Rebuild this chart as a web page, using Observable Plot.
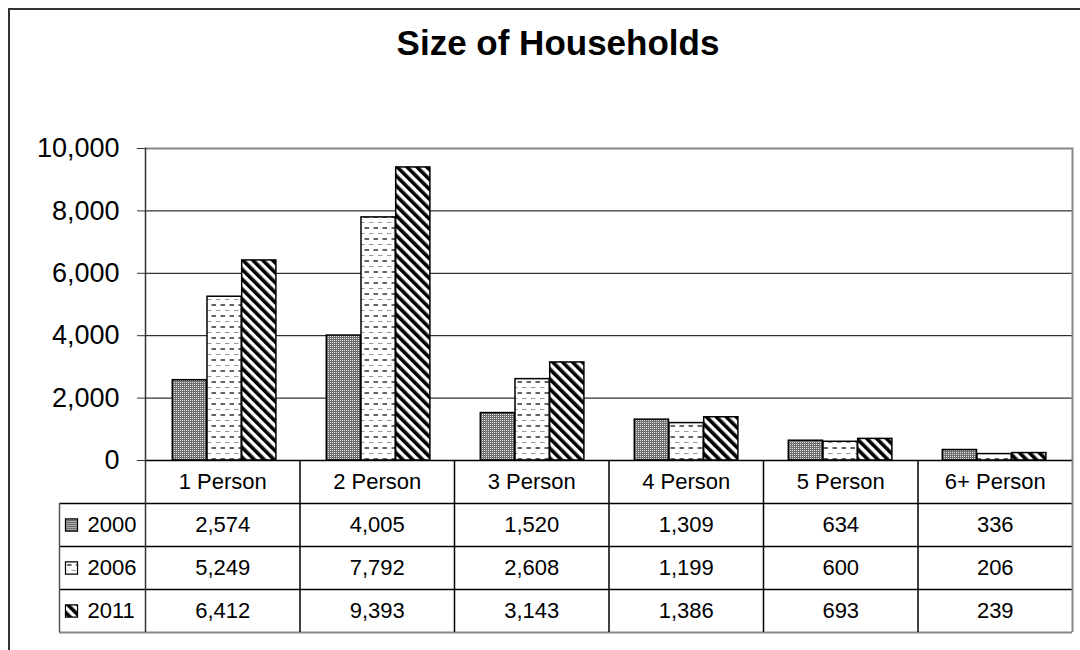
<!DOCTYPE html>
<html>
<head>
<meta charset="utf-8">
<script src="https://cdn.jsdelivr.net/npm/d3@7"></script>
<script src="https://cdn.jsdelivr.net/npm/@observablehq/plot@0.6"></script>
<style>
  body { margin: 0; background: #fff; font-family: "Liberation Sans", Arial, sans-serif; }
  #wrap { position: relative; width: 1080px; height: 650px; overflow: hidden; background: #fff; }
  #chart, #table { position: absolute; left: 0; }
  #chart { top: 0; }
  #table { top: 460px; }
  #border { position: absolute; left: 8px; top: 8px; width: 1200px; height: 800px;
            border-left: 2px solid #333; border-top: 2px solid #333; }
  #title { position: absolute; left: 18px; width: 1080px; top: 25px; text-align: center;
           font-weight: bold; font-size: 35px; line-height: 1; color: #000; }
</style>
</head>
<body>
<div id="wrap">
  <svg width="0" height="0" style="position:absolute">
    <defs>
      <!-- 2000: fine gray stipple -->
      <pattern id="fill2000" width="2" height="2" patternUnits="userSpaceOnUse">
        <rect width="2" height="2" fill="#6f6f6f"/>
        <rect width="1" height="1" fill="#e0e0e0"/>
      </pattern>
      <!-- 2006: white with staggered dashes -->
      <pattern id="fill2006" width="9" height="11" patternUnits="userSpaceOnUse">
        <rect width="9" height="11" fill="#fff"/>
        <line x1="0" x2="4.5" y1="2.5" y2="2.5" stroke="#999" stroke-width="1"/>
        <line x1="4.5" x2="9" y1="8" y2="8" stroke="#222" stroke-width="1.4"/>
      </pattern>
      <!-- 2011: wide diagonal stripes -->
      <pattern id="fill2011" width="7" height="7" patternUnits="userSpaceOnUse" patternTransform="rotate(-45)">
        <rect width="7" height="7" fill="#fff"/>
        <rect width="3.6" height="7" fill="#000"/>
      </pattern>
    </defs>
  </svg>
  <div id="chart"></div>
  <div id="table"></div>
  <div id="border"></div>
  <div id="title">Size of Households</div>
</div>
<script>
// Households by size
const categories = ["1 Person", "2 Person", "3 Person", "4 Person", "5 Person", "6+ Person"];
const years = ["2000", "2006", "2011"];
const values2000 = [2574, 4005, 1520, 1309, 634, 336];
const values2006 = [5249, 7792, 2608, 1199, 600, 206];
const values2011 = [6412, 9393, 3143, 1386, 693, 239];
const yTicks = [0, 2000, 4000, 6000, 8000, 10000];

const series = {"2000": values2000, "2006": values2006, "2011": values2011};
const rows = years.flatMap(year => categories.map((cat, i) => ({year, cat, value: series[year][i]})));

const fills = {"2000": "url(#fill2000)", "2006": "url(#fill2006)", "2011": "url(#fill2011)"};
const font = "'Liberation Sans', Arial, sans-serif";
const fmt = d3.format(",");

// Layout
const W = 1080, mL = 145, mR = 8;
const bandW = (W - mL - mR) / categories.length;
const groupLeft = 25.3, barW = 34.7;
const labelColW = 86;

const chart = Plot.plot({
  width: W, height: 480,
  marginTop: 148, marginBottom: 20, marginLeft: mL, marginRight: mR,
  style: {background: "transparent", fontFamily: font, color: "#000", overflow: "visible"},
  x: {domain: categories, padding: 0, axis: null},
  y: {domain: [0, 10000], axis: null},
  marks: [
    Plot.ruleY(yTicks.filter(t => t > 0 && t < 10000), {stroke: "#000", strokeWidth: 1}),
    Plot.ruleY([10000], {stroke: "#888", strokeWidth: 2}),
    Plot.frame({anchor: "right", stroke: "#888", strokeWidth: 2}),
    ...years.map((year, k) => Plot.barY(rows.filter(d => d.year === year), {
      x: "cat", y: "value", fill: fills[year], stroke: "#000", strokeWidth: 1.5,
      insetLeft: groupLeft + barW * k,
      insetRight: bandW - groupLeft - barW * (k + 1)
    })),
    Plot.ruleY([0], {stroke: "#000", strokeWidth: 1.5}),
    Plot.frame({anchor: "left", stroke: "#333", strokeWidth: 1.5}),
    Plot.axisY({ticks: yTicks, tickFormat: fmt, tickSize: 8, tickPadding: 18, fontSize: 27, stroke: "#333", label: null})
  ]
});
document.getElementById("chart").append(chart);

// Data table under the chart: header row + one row per year
const xLabel = -labelColW / bandW;
const nCols = categories.length;
const table = Plot.plot({
  width: W, height: 190,
  marginTop: 0, marginBottom: 18, marginLeft: mL - labelColW, marginRight: mR,
  style: {background: "transparent", fontFamily: font, color: "#000", overflow: "visible"},
  x: {type: "linear", domain: [xLabel, nCols], axis: null},
  y: {type: "linear", domain: [0, years.length + 1], reverse: true, axis: null},
  marks: [
    Plot.ruleY(d3.range(1, years.length + 1), {x1: xLabel, x2: nCols, stroke: "#000", strokeWidth: 1.5}),
    Plot.ruleY([years.length + 1], {x1: xLabel, x2: nCols, stroke: "#888", strokeWidth: 2}),
    Plot.ruleX(d3.range(1, nCols), {y1: 0, y2: years.length + 1, stroke: "#000", strokeWidth: 1.5}),
    Plot.ruleX([0], {y1: 0, y2: years.length + 1, stroke: "#333", strokeWidth: 1.5}),
    Plot.ruleX([nCols], {y1: 0, y2: years.length + 1, stroke: "#888", strokeWidth: 2}),
    Plot.ruleX([xLabel], {y1: 1, y2: years.length + 1, stroke: "#555", strokeWidth: 1.5}),
    Plot.text(categories, {x: (d, i) => i + 0.5, y: () => 0.5, text: d => d, fontSize: 22}),
    Plot.text(rows, {
      x: d => categories.indexOf(d.cat) + 0.5,
      y: d => years.indexOf(d.year) + 1.5,
      text: d => fmt(d.value), fontSize: 22
    }),
    Plot.text(years, {x: () => xLabel, dx: 28, y: (d, i) => i + 1.5, text: d => d, textAnchor: "start", fontSize: 22}),
    ...years.map((year, k) => Plot.dot([year], {
      x: () => xLabel, dx: 12, y: () => k + 1.5,
      symbol: "square", r: 6.8, fill: fills[year], stroke: "#000", strokeWidth: 1.2
    }))
  ]
});
document.getElementById("table").append(table);
</script>
</body>
</html>
